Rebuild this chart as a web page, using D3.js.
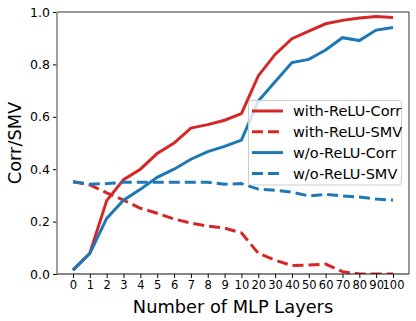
<!DOCTYPE html>
<html><head><meta charset="utf-8">
<script src="https://cdn.jsdelivr.net/npm/d3@7"></script>
<style>body{margin:0;background:#fff}svg{display:block}text{font-family:"DejaVu Sans",sans-serif}</style>
</head><body>
<script>
const layers = ["0","1","2","3","4","5","6","7","8","9","10","20","30","40","50","60","70","80","90","100"];
const withReluCorr = [0.015,0.079,0.28,0.36,0.40,0.46,0.50,0.557,0.57,0.587,0.612,0.756,0.838,0.898,0.927,0.955,0.968,0.977,0.983,0.979];
const withReluSMV  = [0.352,0.34,0.31,0.282,0.251,0.232,0.21,0.194,0.183,0.175,0.157,0.079,0.053,0.032,0.034,0.038,0.009,0.0,0.0,0.0];
const woReluCorr   = [0.015,0.079,0.212,0.282,0.323,0.369,0.40,0.438,0.467,0.487,0.511,0.66,0.734,0.807,0.819,0.855,0.902,0.891,0.931,0.941];
const woReluSMV    = [0.352,0.343,0.345,0.35,0.35,0.35,0.35,0.35,0.35,0.343,0.345,0.324,0.32,0.312,0.298,0.304,0.298,0.294,0.286,0.282];
const yTicks = [0.0,0.2,0.4,0.6,0.8,1.0];
const series = [
  {name:"with-ReLU-Corr", values:withReluCorr, color:"#d62728", dash:null},
  {name:"with-ReLU-SMV", values:withReluSMV, color:"#d62728", dash:"11,5"},
  {name:"w/o-ReLU-Corr", values:woReluCorr, color:"#1f77b4", dash:null},
  {name:"w/o-ReLU-SMV", values:woReluSMV, color:"#1f77b4", dash:"11,5"}
];
const W=416,H=321, L=57, R=409, T=12, B=274;
const svg=d3.select("body").append("svg").attr("width",W).attr("height",H);
const step=(R-L)/(layers.length-1+1.9);
const x=d3.scalePoint().domain(layers).range([L+0.95*step, R-0.95*step]);
const y=d3.scaleLinear().domain([0,1]).range([B,T]);

const xAxis=svg.append("g").attr("transform",`translate(0,${B})`)
  .call(d3.axisBottom(x).tickSize(4).tickPadding(3));
xAxis.select(".domain").remove();
xAxis.selectAll("text").attr("font-size",11.5).attr("fill","#000");
xAxis.selectAll("line").attr("stroke","#000");
const yAxis=svg.append("g").attr("transform",`translate(${L},0)`)
  .call(d3.axisLeft(y).tickValues(yTicks).tickFormat(d3.format(".1f")).tickSize(4).tickPadding(3));
yAxis.select(".domain").remove();
yAxis.selectAll("text").attr("font-size",12.5).attr("fill","#000");
yAxis.selectAll("line").attr("stroke","#000");

const line=d3.line().x((d,i)=>x(layers[i])).y(d=>y(d));
const clip=svg.append("clipPath").attr("id","c").append("rect").attr("x",L).attr("y",T).attr("width",R-L).attr("height",B-T);
series.forEach(s=>{
  svg.append("path").datum(s.values).attr("d",line).attr("fill","none")
    .attr("stroke",s.color).attr("stroke-width",3).attr("stroke-dasharray",s.dash)
    .attr("clip-path","url(#c)");
});
// spines
svg.append("line").attr("x1",L).attr("x2",R).attr("y1",T).attr("y2",T).attr("stroke","#333").attr("stroke-width",1);
svg.append("line").attr("x1",R).attr("x2",R).attr("y1",T).attr("y2",B).attr("stroke","#333").attr("stroke-width",1);
svg.append("line").attr("x1",L).attr("x2",R).attr("y1",B).attr("y2",B).attr("stroke","#111").attr("stroke-width",1.2);
svg.append("line").attr("x1",L).attr("x2",L).attr("y1",T).attr("y2",B).attr("stroke","#888").attr("stroke-width",1.6);

// legend
const lg=svg.append("g");
lg.append("rect").attr("x",248.5).attr("y",100.5).attr("width",153).attr("height",84.5).attr("rx",3)
  .attr("fill","#fff").attr("fill-opacity",0.8).attr("stroke","#ccc");
series.forEach((s,i)=>{
  const yy=111+i*20.8;
  lg.append("line").attr("x1",252).attr("x2",283).attr("y1",yy).attr("y2",yy)
    .attr("stroke",s.color).attr("stroke-width",3).attr("stroke-dasharray",s.dash);
  lg.append("text").attr("x",293).attr("y",yy+5.2).attr("font-size",14.5).text(s.name);
});

svg.append("text").attr("x",(L+R)/2).attr("y",313).attr("text-anchor","middle").attr("font-size",17.8).text("Number of MLP Layers");
svg.append("text").attr("transform",`translate(21,${(T+B)/2}) rotate(-90)`).attr("text-anchor","middle").attr("font-size",17.8).text("Corr/SMV");
</script>
</body></html>
